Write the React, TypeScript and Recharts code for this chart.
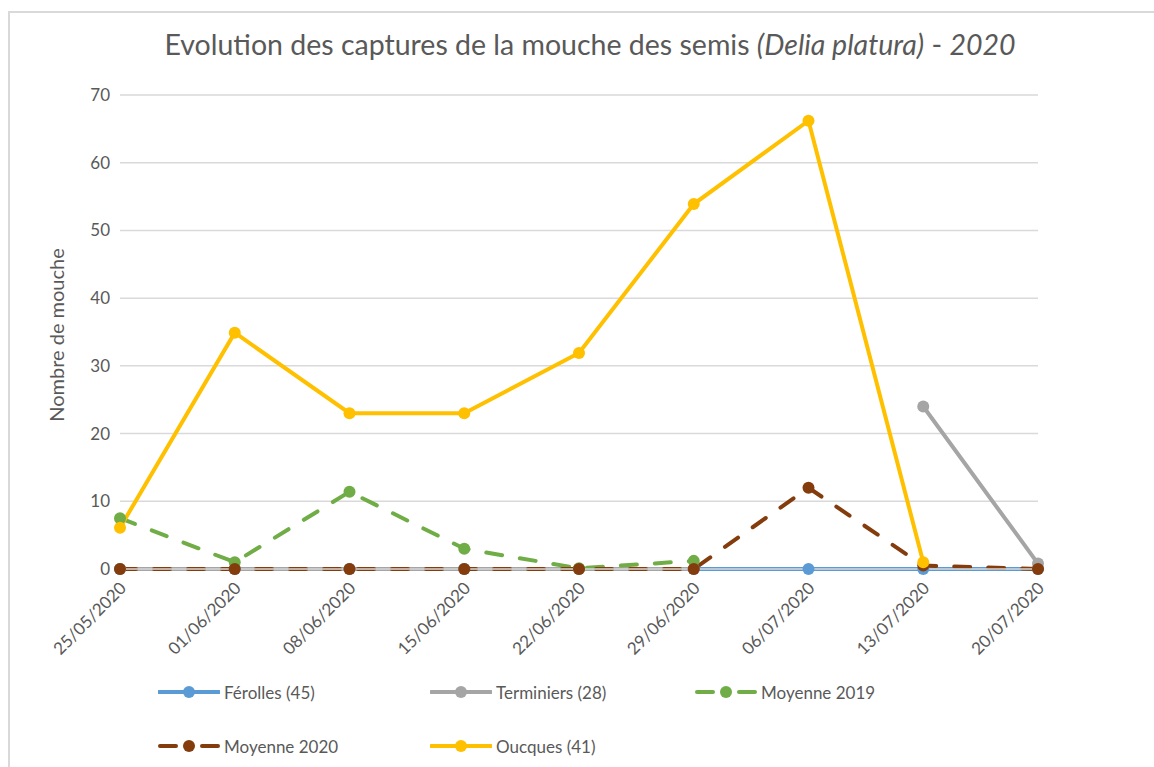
import React from "react";
import {
  LineChart,
  Line,
  XAxis,
  YAxis,
  CartesianGrid,
} from "recharts";

const dates = [
  "25/05/2020",
  "01/06/2020",
  "08/06/2020",
  "15/06/2020",
  "22/06/2020",
  "29/06/2020",
  "06/07/2020",
  "13/07/2020",
  "20/07/2020",
];

const ferolles = [0, 0, 0, 0, 0, 0, 0, 0, 0];
const terminiers = [0, 0, 0, 0, 0, 0, null, 24, 0.8];
const moyenne2019 = [7.5, 1, 11.4, 3, 0.1, 1.2, null, null, null];
const moyenne2020 = [0, 0, 0, 0, 0, 0, 12, 0.5, 0];
const oucques = [6.1, 34.9, 23, 23, 31.9, 53.9, 66.2, 1, null];

const yTicks = [0, 10, 20, 30, 40, 50, 60, 70];

const SERIES = [
  { key: "ferolles", name: "Férolles (45)", color: "#5B9BD5", dashed: false },
  { key: "terminiers", name: "Terminiers (28)", color: "#A5A5A5", dashed: false },
  { key: "moy2019", name: "Moyenne 2019", color: "#70AD47", dashed: true },
  { key: "moy2020", name: "Moyenne 2020", color: "#843C0C", dashed: true },
  { key: "oucques", name: "Oucques (41)", color: "#FFC000", dashed: false },
];

const FONT = "Lato, 'Noto Sans', sans-serif";
const TEXT = "#595959";

const data = dates.map((d, i) => ({
  date: d,
  ferolles: ferolles[i],
  terminiers: terminiers[i],
  moy2019: moyenne2019[i],
  moy2020: moyenne2020[i],
  oucques: oucques[i],
}));

function DateTick({ x, y, payload }: any) {
  return (
    <g transform={`translate(${x + 3},${y + 8})`}>
      <text
        transform="rotate(-45)"
        textAnchor="end"
        dy="0.35em"
        fill={TEXT}
        fontSize={17}
        fontFamily={FONT}
      >
        {payload.value}
      </text>
    </g>
  );
}

function LegendIcon({ color, dashed }: { color: string; dashed: boolean }) {
  return (
    <svg width={62} height={16} style={{ display: "block" }}>
      {dashed ? (
        <>
          <line x1={2} y1={8} x2={18} y2={8} stroke={color} strokeWidth={4} strokeLinecap="round" />
          <line x1={44} y1={8} x2={60} y2={8} stroke={color} strokeWidth={4} strokeLinecap="round" />
        </>
      ) : (
        <line x1={1} y1={8} x2={61} y2={8} stroke={color} strokeWidth={4} strokeLinecap="round" />
      )}
      <circle cx={31} cy={8} r={6} fill={color} />
    </svg>
  );
}

export default function App() {
  return (
    <div
      style={{
        position: "absolute",
        left: 0,
        top: 0,
        width: 1154,
        height: 767,
        overflow: "hidden",
        background: "#fff",
        fontFamily: FONT,
      }}
    >
      <div
        style={{
          position: "absolute",
          left: 8,
          top: 11,
          width: 1146,
          height: 756,
          boxSizing: "border-box",
          borderTop: "2px solid #d9d9d9",
          borderLeft: "2px solid #d9d9d9",
        }}
      />
      <div
        style={{
          position: "absolute",
          left: 0,
          top: 27,
          width: 1180,
          textAlign: "center",
          fontSize: 28.5,
          color: TEXT,
        }}
      >
        Evolution des captures de la mouche des semis <i>(Delia platura)</i> -{" "}
        <i>2020</i>
      </div>
      <svg
        width={40}
        height={300}
        style={{ position: "absolute", left: 37, top: 185 }}
      >
        <text
          transform="translate(20,150) rotate(-90)"
          textAnchor="middle"
          dy="0.35em"
          fill={TEXT}
          fontSize={20}
          fontFamily={FONT}
        >
          Nombre de mouche
        </text>
      </svg>
      <div style={{ position: "absolute", left: 0, top: 0 }}>
        <LineChart
          width={1154}
          height={767}
          data={data}
          margin={{ top: 95, right: 116, bottom: 108, left: 0 }}
        >
          <CartesianGrid vertical={false} stroke="#d9d9d9" strokeWidth={1.5} />
          <XAxis
            dataKey="date"
            tick={<DateTick />}
            tickLine={false}
            axisLine={{ stroke: "#d9d9d9", strokeWidth: 1.5 }}
            interval={0}
            height={90}
          />
          <YAxis
            domain={[0, 70]}
            ticks={yTicks}
            width={120}
            axisLine={false}
            tickLine={false}
            tickMargin={4}
            tick={{ fill: TEXT, fontSize: 17, fontFamily: FONT }}
          />
          {SERIES.map((s) => (
            <Line
              key={s.key}
              dataKey={s.key}
              name={s.name}
              stroke={s.color}
              strokeWidth={4}
              strokeDasharray={s.dashed ? "16 18" : undefined}
              strokeLinecap="round"
              dot={{ r: 6, fill: s.color, stroke: s.color, strokeWidth: 0 }}
              activeDot={false}
              connectNulls={false}
              isAnimationActive={false}
            />
          ))}
        </LineChart>
      </div>
      <div
        style={{
          position: "absolute",
          left: 158,
          top: 682,
          width: 820,
          display: "flex",
          flexWrap: "wrap",
          rowGap: 34,
        }}
      >
        {SERIES.map((s, i) => (
          <div
            key={s.key}
            style={{
              width: i % 3 === 1 ? 265 : 272,
              display: "flex",
              alignItems: "center",
              height: 20,
              fontSize: 17,
              color: TEXT,
            }}
          >
            <LegendIcon color={s.color} dashed={s.dashed} />
            <span style={{ marginLeft: 4 }}>{s.name}</span>
          </div>
        ))}
      </div>
    </div>
  );
}
